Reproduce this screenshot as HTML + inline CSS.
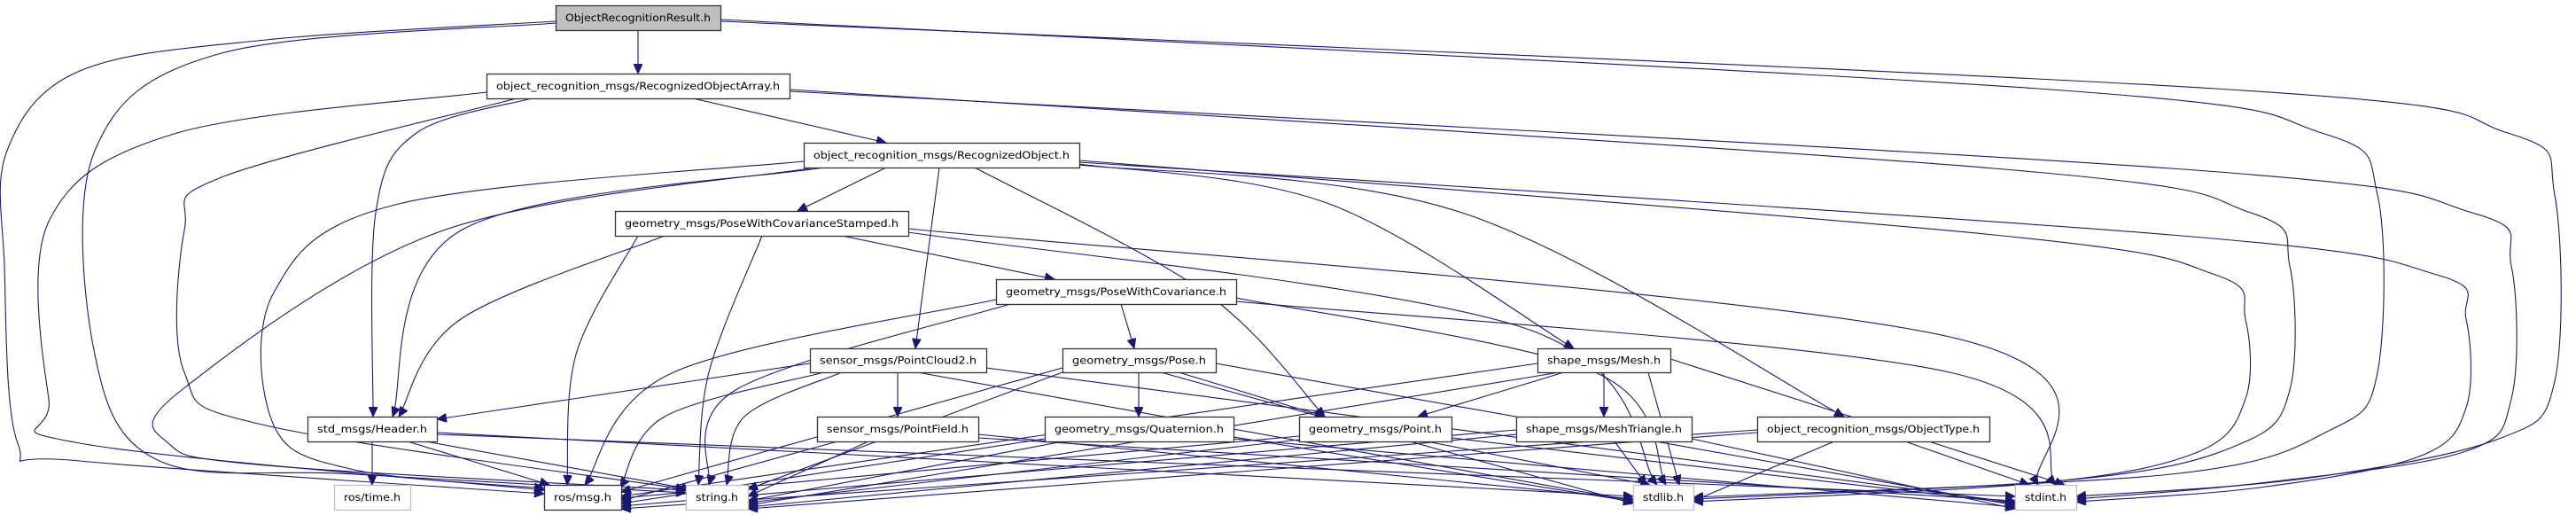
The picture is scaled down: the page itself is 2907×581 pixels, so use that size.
<!DOCTYPE html>
<html><head><meta charset="utf-8"><style>
html,body{margin:0;padding:0;background:#fff;width:2907px;height:581px;overflow:hidden}
svg{display:block}
text{font-family:"DejaVu Sans","Liberation Sans",sans-serif;font-size:11.5px;fill:#000}
</style></head><body>
<svg id="g" width="2907" height="581" viewBox="0 0 2907 581" xmlns="http://www.w3.org/2000/svg">
<defs><marker id="a" markerUnits="userSpaceOnUse" markerWidth="12" markerHeight="10" refX="11" refY="5" orient="auto"><path d="M0,0 L11,5 L0,10 z" fill="#191970" stroke="#191970"/></marker></defs>
<g id="edges" fill="none" stroke="#191970" stroke-width="1.1"></g>
<g id="nodes"></g>
</svg>
<script>
var N={
ORR:[627,6,813,34,"ObjectRecognitionResult.h",2],
ROA:[549,83,891,111,"object_recognition_msgs/RecognizedObjectArray.h",0],
RO:[907,161,1218,189,"object_recognition_msgs/RecognizedObject.h",0],
PWCS:[694,238,1025,266,"geometry_msgs/PoseWithCovarianceStamped.h",0],
PWC:[1124,315,1395,343,"geometry_msgs/PoseWithCovariance.h",0],
PC2:[914,393,1113,420,"sensor_msgs/PointCloud2.h",0],
Pose:[1199,393,1372,420,"geometry_msgs/Pose.h",0],
Mesh:[1735,393,1885,420,"shape_msgs/Mesh.h",0],
Hdr:[347,470,493,498,"std_msgs/Header.h",0],
PF:[922,470,1104,498,"sensor_msgs/PointField.h",0],
Quat:[1179,470,1392,498,"geometry_msgs/Quaternion.h",0],
Pt:[1466,470,1638,498,"geometry_msgs/Point.h",0],
MT:[1711,470,1909,498,"shape_msgs/MeshTriangle.h",0],
OT:[1983,470,2245,498,"object_recognition_msgs/ObjectType.h",0],
time:[377,547,463,575,"ros/time.h",1],
msg:[614,547,701,575,"ros/msg.h",0],
str:[774,547,844,575,"string.h",1],
slib:[1843,547,1911,575,"stdlib.h",1],
sint:[2274,547,2343,575,"stdint.h",1]};
var E=[
[[720,34],[720,83]],
[[627,24],[300,45],[90,80],[8,170],[5,300],[20,500],[90,520],[614,557]],
[[627,26],[250,60],[107,170],[107,400],[180,520],[400,535],[774,556]],
[[549,104],[200,150],[55,250],[55,450],[90,500],[614,553]],
[[583,111],[250,200],[208,260],[208,420],[300,480],[774,552]],
[[600,111],[470,150],[424,240],[421,470]],
[[782,111],[1000,161]],
[[813,22],[2300,100],[2620,150],[2683,220],[2683,420],[2630,485],[2450,535],[1911,561]],
[[813,24],[2500,100],[2830,150],[2883,220],[2883,430],[2820,495],[2600,540],[2343,560]],
[[891,101],[2250,190],[2540,240],[2584,300],[2584,440],[2530,500],[2350,540],[1911,563]],
[[891,103],[2450,190],[2790,240],[2834,300],[2834,450],[2780,510],[2550,545],[2343,563]],
[[907,182],[450,230],[309,330],[309,480],[400,530],[614,551]],
[[920,189],[500,260],[205,440],[190,500],[300,525],[774,553]],
[[930,189],[520,260],[443,470]],
[[1000,189],[900,238]],
[[1060,189],[1033,393]],
[[1100,189],[1360,330],[1495,470]],
[[1218,185],[1500,230],[1776,393]],
[[1218,186],[1650,240],[2081,470]],
[[1218,181],[2250,265],[2500,310],[2534,360],[2534,450],[2480,510],[2300,545],[1911,566]],
[[1218,183],[2450,265],[2750,310],[2783,360],[2783,460],[2730,515],[2550,550],[2343,566]],
[[750,266],[520,360],[450,470]],
[[720,266],[650,400],[640,547]],
[[860,266],[800,420],[788,547]],
[[950,266],[1190,315]],
[[1025,262],[1720,370],[1870,547]],
[[1025,258],[2200,380],[2300,547]],
[[1265,343],[1280,393]],
[[1124,338],[760,420],[660,547]],
[[1140,343],[830,440],[800,547]],
[[1395,336],[1800,420],[1880,547]],
[[1395,340],[2200,420],[2320,547]],
[[914,410],[493,473]],
[[1013,420],[1013,470]],
[[930,420],[750,470],[700,550]],
[[950,420],[840,470],[820,547]],
[[1035,420],[1843,565]],
[[1113,415],[2274,567]],
[[1330,420],[1495,470]],
[[1285,420],[1285,470]],
[[1199,415],[701,555]],
[[1199,420],[844,552]],
[[1310,420],[1843,568]],
[[1372,410],[2274,570]],
[[420,498],[420,547]],
[[460,498],[620,547]],
[[480,498],[780,552]],
[[493,488],[1843,560]],
[[493,490],[2274,560]],
[[945,498],[701,565]],[[980,498],[844,560]],[[1104,490],[1843,563]],[[1104,494],[2274,565]],
[[1179,495],[701,568]],[[1200,498],[844,565]],[[1392,493],[1843,566]],[[1392,495],[2274,572]],
[[1466,492],[701,562]],[[1466,496],[844,567]],[[1610,498],[1862,547]],[[1638,494],[2274,568]],
[[1765,420],[1600,470]],[[1810,420],[1810,470]],[[1735,410],[701,560]],[[1760,420],[844,570]],[[1860,420],[1895,547]],[[1885,405],[2330,547]],
[[1711,485],[701,571]],[[1711,490],[844,572]],[[1822,498],[1858,547]],[[1909,495],[2274,574]],
[[1983,485],[701,574]],[[1983,488],[844,574]],[[2070,498],[1911,565]],[[2150,498],[2290,547]]
];
var ns="http://www.w3.org/2000/svg";
function pth(p){
 if(p.length==2){return "M"+p[0]+" L"+p[1];}
 var d="M"+p[0][0]+","+p[0][1];
 for(var i=0;i<p.length-1;i++){
  var p0=p[i-1]||p[i],p1=p[i],p2=p[i+1],p3=p[i+2]||p[i+1];
  var c1=[p1[0]+(p2[0]-p0[0])/6,p1[1]+(p2[1]-p0[1])/6];
  var c2=[p2[0]-(p3[0]-p1[0])/6,p2[1]-(p3[1]-p1[1])/6];
  d+=" C"+c1+" "+c2+" "+p2;
 }
 return d;
}
var ge=document.getElementById("edges");
E.forEach(function(p){var e=document.createElementNS(ns,"path");e.setAttribute("d",pth(p));e.setAttribute("marker-end","url(#a)");ge.appendChild(e);});
var gn=document.getElementById("nodes");
for(var k in N){var n=N[k];
 var r=document.createElementNS(ns,"rect");
 r.setAttribute("x",n[0]+0.5);r.setAttribute("y",n[1]+0.5);r.setAttribute("width",n[2]-n[0]);r.setAttribute("height",n[3]-n[1]);
 r.setAttribute("fill",n[5]==2?"#bfbfbf":"#fff");r.setAttribute("stroke",n[5]==1?"#bfbfbf":"#333");r.setAttribute("stroke-width","1.3");
 gn.appendChild(r);
 var t=document.createElementNS(ns,"text");
 t.setAttribute("x",(n[0]+n[2])/2);t.setAttribute("y",(n[1]+n[3])/2+4);t.setAttribute("text-anchor","middle");
 t.setAttribute("textLength",(n[2]-n[0])-22);t.setAttribute("lengthAdjust","spacingAndGlyphs");
 t.textContent=n[4];gn.appendChild(t);}
</script>
</body></html>
